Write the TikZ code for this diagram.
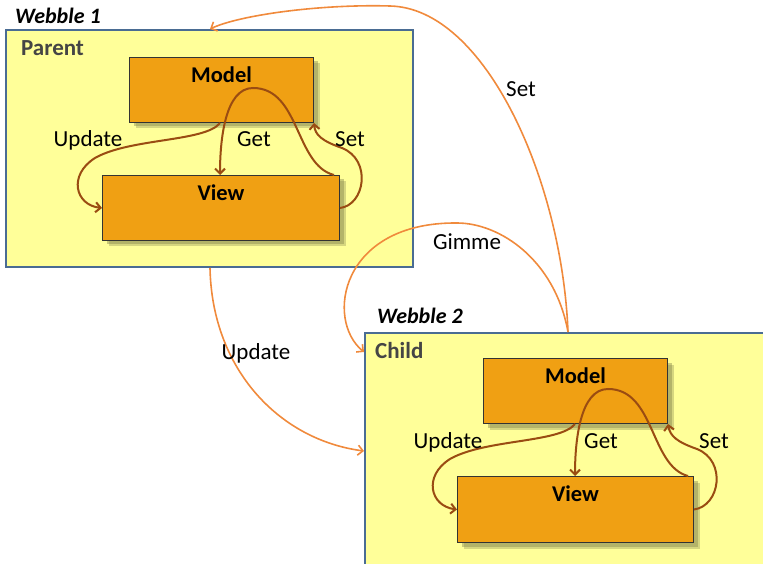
\documentclass[tikz,border=0pt]{standalone}
\usepackage{fontspec}
\setmainfont{Carlito}
\usetikzlibrary{arrows.meta,shadows,calc}
\definecolor{webfill}{HTML}{FFFF99}
\definecolor{webline}{HTML}{4A6C93}
\definecolor{boxfill}{HTML}{F0A013}
\definecolor{boxline}{HTML}{333333}
\definecolor{brn}{HTML}{9A4C12}
\definecolor{org}{HTML}{F08A3C}
\definecolor{lbl}{HTML}{454545}
\definecolor{shd}{HTML}{8A8A50}
\tikzset{
  webble/.style={draw=webline, line width=2pt, fill=webfill, inner sep=0pt, anchor=north west},
  comp/.style={draw=boxline, line width=1pt, fill=boxfill, inner sep=0pt, anchor=north west,
    general shadow={shadow xshift=6pt, shadow yshift=-6pt, fill=shd, opacity=0.35},
    general shadow={shadow xshift=4pt, shadow yshift=-4pt, fill=shd, opacity=0.45}},
  comptitle/.style={anchor=north, yshift=-10pt, inner sep=0pt, text height=15pt, text depth=4pt,
    font=\fontsize{22.5}{26}\selectfont\bfseries},
  wtitle/.style={anchor=base west, inner sep=0pt, font=\fontsize{22}{26}\selectfont\bfseries\itshape},
  ptitle/.style={anchor=base west, inner sep=0pt, text=lbl, font=\fontsize{23}{27}\selectfont\bfseries},
  lab/.style={anchor=base, inner sep=0pt, font=\fontsize{23}{27}\selectfont},
  brarrow/.style={draw=brn, line width=2pt, -{Straight Barb[length=5pt,width=10pt]}},
  orarrow/.style={draw=org, line width=1.6pt, -{Straight Barb[length=5pt,width=10pt]}},
}
\begin{document}
\begin{tikzpicture}[x=1pt,y=-1pt]
\useasboundingbox (0,0) rectangle (763,564);
\clip (0,0) rectangle (763,564);

% outer webbles
\node[webble, minimum width=407pt, minimum height=237pt] (w1) at (5,29) {};
\node[webble, minimum width=440pt, minimum height=280pt] (w2) at (364,332) {};
\node[wtitle] (w1t) at (15,24) {Webble 1};
\node[wtitle] (w2t) at (377,323) {Webble 2};
\node[ptitle] (w1p) at (21,56) {Parent};
\node[ptitle] (w2p) at (375,358) {Child};

% webble 1 internals
\node[comp, minimum width=184pt, minimum height=65pt] (m1) at (129,57) {};
\node[comp, minimum width=237pt, minimum height=65pt] (v1) at (102,175) {};
\node[comptitle] (m1t) at (m1.north) {Model};
\node[comptitle] (v1t) at (v1.north) {View};
\draw[brarrow] ($(m1.south west)+(91,0)$) .. controls (205,142) and (130,138) .. (95,158)
   .. controls (68,175) and (75,205) .. (v1.west);
\draw[brarrow] ($(v1.north east)+(-6,0)$) .. controls (295,165) and (300,88) .. (253,88)
   .. controls (225,88) and (220,140) .. ($(v1.north west)+(118,0)$);
\draw[brarrow] (v1.east) .. controls (365,205) and (372,160) .. (342,148)
   .. controls (322,141) and (315,135) .. (m1.south east);
\node[lab] (u1) at (88,147) {Update};
\node[lab] (g1) at (254,147) {Get};
\node[lab] (s1) at (350,147) {Set};

% webble 2 internals
\begin{scope}[shift={(355,301)}]
\node[comp, minimum width=184pt, minimum height=65pt] (m2) at (128,57) {};
\node[comp, minimum width=236pt, minimum height=66pt] (v2) at (102,175) {};
\node[comptitle] (m2t) at (m2.north) {Model};
\node[comptitle] (v2t) at (v2.north) {View};
\draw[brarrow] ($(m2.south west)+(92,0)$) .. controls (205,142) and (130,138) .. (95,158)
   .. controls (68,175) and (75,205) .. (v2.west);
\draw[brarrow] ($(v2.north east)+(-6,0)$) .. controls (295,165) and (300,88) .. (253,88)
   .. controls (225,88) and (220,140) .. ($(v2.north west)+(118,0)$);
\draw[brarrow] (v2.east) .. controls (365,205) and (372,160) .. (342,148)
   .. controls (322,141) and (315,135) .. (m2.south east);
\node[lab] (u2) at (93,147) {Update};
\node[lab] (g2) at (246,147) {Get};
\node[lab] (s2) at (359,147) {Set};
\end{scope}

% big orange connectors
\draw[orarrow] ($(w2.north west)+(204,0)$) .. controls (562,180) and (485,8) .. (390,6)
   .. controls (320,4) and (240,15) .. ($(w1.north west)+(205,0)$);
\draw[orarrow] ($(w2.north west)+(204,0)$) .. controls (555,260) and (500,223) .. (457,223)
   .. controls (340,222) and (325,320) .. ($(w2.north west)+(0,20)$);
\draw[orarrow] ($(w1.south west)+(205,0)$) .. controls (212,370) and (280,440) .. ($(w2.north west)+(0,119)$);
\node[lab] (sb) at (521,97) {Set};
\node[lab] (gb) at (467,249) {Gimme};
\node[lab] (ub) at (256,359) {Update};
\end{tikzpicture}
\end{document}
